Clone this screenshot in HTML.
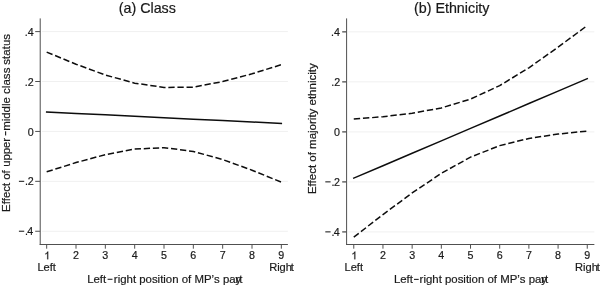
<!DOCTYPE html>
<html><head><meta charset="utf-8"><title>chart</title>
<style>
html,body{margin:0;padding:0;background:#ffffff;}
body{width:600px;height:287px;overflow:hidden;position:relative;font-family:"Liberation Sans",sans-serif;}
</style></head><body>
<svg width="600" height="287" viewBox="0 0 600 287" style="position:absolute;left:0;top:0;display:block;will-change:transform" font-family="Liberation Sans, sans-serif" fill="#1a1a1a" stroke="#1a1a1a" stroke-width="0.2">
<rect width="600" height="287" fill="#ffffff" stroke="none"/>
<line x1="42.01" x2="287.9" y1="31.60" y2="31.60" stroke="#f0f0f0" stroke-width="1"/>
<line x1="42.01" x2="287.9" y1="81.51" y2="81.51" stroke="#f0f0f0" stroke-width="1"/>
<line x1="42.01" x2="287.9" y1="131.43" y2="131.43" stroke="#f0f0f0" stroke-width="1"/>
<line x1="42.01" x2="287.9" y1="181.34" y2="181.34" stroke="#f0f0f0" stroke-width="1"/>
<line x1="42.01" x2="287.9" y1="231.25" y2="231.25" stroke="#f0f0f0" stroke-width="1"/>
<line x1="40.21" x2="40.21" y1="18.4" y2="245.0" stroke="#505050" stroke-width="1.0"/>
<line x1="39.71" x2="287.9" y1="244.5" y2="244.5" stroke="#505050" stroke-width="1"/>
<line x1="35.21" x2="40.21" y1="31.60" y2="31.60" stroke="#505050" stroke-width="1.0"/>
<text x="33.61" y="35.75" font-size="10.7" text-anchor="end">.4</text>
<line x1="35.21" x2="40.21" y1="81.51" y2="81.51" stroke="#505050" stroke-width="1.0"/>
<text x="33.76" y="85.66" font-size="10.7" text-anchor="end">.2</text>
<line x1="35.21" x2="40.21" y1="131.43" y2="131.43" stroke="#505050" stroke-width="1.0"/>
<text x="33.61" y="135.58" font-size="10.7" text-anchor="end">0</text>
<line x1="35.21" x2="40.21" y1="181.34" y2="181.34" stroke="#505050" stroke-width="1.0"/>
<text x="33.61" y="185.49" font-size="10.7" text-anchor="end">2</text>
<text x="25.01" y="185.49" font-size="10.7">.</text>
<rect x="18.91" y="180.79" width="5.3" height="1.05" stroke="none"/>
<line x1="35.21" x2="40.21" y1="231.25" y2="231.25" stroke="#505050" stroke-width="1.0"/>
<text x="33.21" y="235.40" font-size="10.7" text-anchor="end">4</text>
<text x="25.01" y="235.40" font-size="10.7">.</text>
<rect x="18.91" y="230.70" width="5.3" height="1.05" stroke="none"/>
<line x1="46.68" x2="46.68" y1="244.5" y2="248.7" stroke="#505050" stroke-width="1"/>
<path d="M48.20,259.30 L47.26,259.30 L47.26,253.31 Q46.92,253.63 46.36,253.96 Q45.81,254.28 45.38,254.44 L45.38,253.53 Q46.16,253.16 46.75,252.63 Q47.35,252.11 47.59,251.61 L48.20,251.61 Z"/>
<line x1="76.01" x2="76.01" y1="244.5" y2="248.7" stroke="#505050" stroke-width="1"/>
<text x="76.01" y="259.3" font-size="10.7" text-anchor="middle">2</text>
<line x1="105.34" x2="105.34" y1="244.5" y2="248.7" stroke="#505050" stroke-width="1"/>
<text x="105.34" y="259.3" font-size="10.7" text-anchor="middle">3</text>
<line x1="134.68" x2="134.68" y1="244.5" y2="248.7" stroke="#505050" stroke-width="1"/>
<text x="134.68" y="259.3" font-size="10.7" text-anchor="middle">4</text>
<line x1="164.01" x2="164.01" y1="244.5" y2="248.7" stroke="#505050" stroke-width="1"/>
<text x="164.01" y="259.3" font-size="10.7" text-anchor="middle">5</text>
<line x1="193.34" x2="193.34" y1="244.5" y2="248.7" stroke="#505050" stroke-width="1"/>
<text x="193.34" y="259.3" font-size="10.7" text-anchor="middle">6</text>
<line x1="222.67" x2="222.67" y1="244.5" y2="248.7" stroke="#505050" stroke-width="1"/>
<text x="222.67" y="259.3" font-size="10.7" text-anchor="middle">7</text>
<line x1="252.01" x2="252.01" y1="244.5" y2="248.7" stroke="#505050" stroke-width="1"/>
<text x="252.01" y="259.3" font-size="10.7" text-anchor="middle">8</text>
<line x1="281.34" x2="281.34" y1="244.5" y2="248.7" stroke="#505050" stroke-width="1"/>
<text x="281.34" y="259.3" font-size="10.7" text-anchor="middle">9</text>
<text x="46.68" y="270.7" font-size="11.1" text-anchor="middle">Left</text>
<text x="269.14" y="270.7" font-size="11.1">Righ</text>
<text x="290.84" y="270.7" font-size="11.1">t</text>
<text x="147.30" y="12.7" font-size="14.3" text-anchor="middle">(a) Class</text>
<text x="87.14" y="283.1" font-size="11.42" style="font-kerning:none">Left</text>
<rect x="107.60" y="278.75" width="4.90" height="1.05" stroke="none"/>
<text x="113.86" y="283.1" font-size="11.42" style="font-kerning:none">right position of MP’s par</text>
<text x="235.43" y="283.1" font-size="11.42">y</text>
<text x="239.23" y="283.1" font-size="11.42">t</text>
<g transform="translate(9.80,212.0) rotate(-90)" font-size="11.47"><text x="0.00" y="0" textLength="29.32" lengthAdjust="spacing">Effect</text><text x="32.31" y="0" textLength="9.37" lengthAdjust="spacing">of</text><text x="45.26" y="0" textLength="28.94" lengthAdjust="spacing">upper</text><text x="81.30" y="0" textLength="33.49" lengthAdjust="spacing">middle</text><text x="117.97" y="0" textLength="26.43" lengthAdjust="spacing">class</text><text x="147.39" y="0" textLength="30.70" lengthAdjust="spacing">status</text><rect x="76.55" y="-4.75" width="4.15" height="1.1" stroke="none"/></g>
<line x1="348.40000000000003" x2="594.36" y1="31.85" y2="31.85" stroke="#f0f0f0" stroke-width="1"/>
<line x1="348.40000000000003" x2="594.36" y1="81.86" y2="81.86" stroke="#f0f0f0" stroke-width="1"/>
<line x1="348.40000000000003" x2="594.36" y1="131.88" y2="131.88" stroke="#f0f0f0" stroke-width="1"/>
<line x1="348.40000000000003" x2="594.36" y1="181.89" y2="181.89" stroke="#f0f0f0" stroke-width="1"/>
<line x1="348.40000000000003" x2="594.36" y1="231.90" y2="231.90" stroke="#f0f0f0" stroke-width="1"/>
<line x1="346.6" x2="346.6" y1="18.4" y2="245.0" stroke="#505050" stroke-width="1.0"/>
<line x1="346.1" x2="594.36" y1="244.5" y2="244.5" stroke="#505050" stroke-width="1"/>
<line x1="342.20000000000005" x2="346.6" y1="31.85" y2="31.85" stroke="#505050" stroke-width="1.3"/>
<text x="340.00" y="36.00" font-size="10.7" text-anchor="end">.4</text>
<line x1="342.20000000000005" x2="346.6" y1="81.86" y2="81.86" stroke="#505050" stroke-width="1.3"/>
<text x="340.15" y="86.01" font-size="10.7" text-anchor="end">.2</text>
<line x1="342.20000000000005" x2="346.6" y1="131.88" y2="131.88" stroke="#505050" stroke-width="1.3"/>
<text x="340.00" y="136.03" font-size="10.7" text-anchor="end">0</text>
<line x1="342.20000000000005" x2="346.6" y1="181.89" y2="181.89" stroke="#505050" stroke-width="1.3"/>
<text x="340.00" y="186.04" font-size="10.7" text-anchor="end">2</text>
<text x="331.40" y="186.04" font-size="10.7">.</text>
<rect x="325.30" y="181.34" width="5.3" height="1.05" stroke="none"/>
<line x1="342.20000000000005" x2="346.6" y1="231.90" y2="231.90" stroke="#505050" stroke-width="1.3"/>
<text x="339.60" y="236.05" font-size="10.7" text-anchor="end">4</text>
<text x="331.40" y="236.05" font-size="10.7">.</text>
<rect x="325.30" y="231.35" width="5.3" height="1.05" stroke="none"/>
<line x1="353.78" x2="353.78" y1="244.5" y2="248.7" stroke="#505050" stroke-width="1"/>
<path d="M355.30,259.30 L354.36,259.30 L354.36,253.31 Q354.02,253.63 353.46,253.96 Q352.91,254.28 352.48,254.44 L352.48,253.53 Q353.26,253.16 353.85,252.63 Q354.45,252.11 354.69,251.61 L355.30,251.61 Z"/>
<line x1="382.96" x2="382.96" y1="244.5" y2="248.7" stroke="#505050" stroke-width="1"/>
<text x="382.96" y="259.3" font-size="10.7" text-anchor="middle">2</text>
<line x1="412.15" x2="412.15" y1="244.5" y2="248.7" stroke="#505050" stroke-width="1"/>
<text x="412.15" y="259.3" font-size="10.7" text-anchor="middle">3</text>
<line x1="441.33" x2="441.33" y1="244.5" y2="248.7" stroke="#505050" stroke-width="1"/>
<text x="441.33" y="259.3" font-size="10.7" text-anchor="middle">4</text>
<line x1="470.52" x2="470.52" y1="244.5" y2="248.7" stroke="#505050" stroke-width="1"/>
<text x="470.52" y="259.3" font-size="10.7" text-anchor="middle">5</text>
<line x1="499.70" x2="499.70" y1="244.5" y2="248.7" stroke="#505050" stroke-width="1"/>
<text x="499.70" y="259.3" font-size="10.7" text-anchor="middle">6</text>
<line x1="528.89" x2="528.89" y1="244.5" y2="248.7" stroke="#505050" stroke-width="1"/>
<text x="528.89" y="259.3" font-size="10.7" text-anchor="middle">7</text>
<line x1="558.08" x2="558.08" y1="244.5" y2="248.7" stroke="#505050" stroke-width="1"/>
<text x="558.08" y="259.3" font-size="10.7" text-anchor="middle">8</text>
<line x1="587.26" x2="587.26" y1="244.5" y2="248.7" stroke="#505050" stroke-width="1"/>
<text x="587.26" y="259.3" font-size="10.7" text-anchor="middle">9</text>
<text x="353.78" y="270.7" font-size="11.1" text-anchor="middle">Left</text>
<text x="575.06" y="270.7" font-size="11.1">Righ</text>
<text x="596.76" y="270.7" font-size="11.1">t</text>
<text x="451.70" y="12.7" font-size="14.3" text-anchor="middle">(b) Ethnicity</text>
<text x="393.89" y="283.2" font-size="11.42" style="font-kerning:none">Left</text>
<rect x="414.00" y="278.85" width="4.70" height="1.05" stroke="none"/>
<text x="419.61" y="283.2" font-size="11.42" style="font-kerning:none">right position of MP’s par</text>
<text x="541.18" y="283.2" font-size="11.42">y</text>
<text x="544.98" y="283.2" font-size="11.42">t</text>
<text transform="translate(316.20,194.1) rotate(-90)" font-size="11.5" text-anchor="start">Effect of majority ethnicity</text>
<polyline points="46.68,111.96 76.01,113.39 105.34,114.83 134.68,116.26 164.01,117.70 193.34,119.13 222.67,120.57 252.01,122.00 281.34,123.44" fill="none" stroke="#0d0d0d" stroke-width="1.5" stroke-linecap="square"/>
<polyline points="46.68,52.10 76.01,64.19 105.34,75.01 134.68,83.14 164.01,87.45 193.34,87.13 222.67,81.59 252.01,73.81 281.34,64.68" fill="none" stroke="#0d0d0d" stroke-width="1.5" stroke-dasharray="6.3,2.8"/>
<polyline points="46.68,171.82 76.01,162.59 105.34,154.64 134.68,149.09 164.01,147.65 193.34,151.46 222.67,159.55 252.01,170.19 281.34,182.20" fill="none" stroke="#0d0d0d" stroke-width="1.5" stroke-dasharray="6.3,2.8"/>
<polyline points="353.78,178.14 382.96,165.71 412.15,153.27 441.33,140.84 470.52,128.41 499.70,115.98 528.89,103.55 558.08,91.12 587.26,78.69" fill="none" stroke="#0d0d0d" stroke-width="1.5" stroke-linecap="square"/>
<polyline points="353.78,119.12 382.96,116.74 412.15,113.30 441.33,107.92 470.52,99.11 499.70,85.60 528.89,67.78 558.08,47.20 587.26,25.50" fill="none" stroke="#0d0d0d" stroke-width="1.5" stroke-dasharray="6.37,2.83"/>
<polyline points="353.78,237.16 382.96,214.53 412.15,192.96 441.33,173.34 470.52,157.13 499.70,145.64 528.89,138.46 558.08,134.02 587.26,131.10" fill="none" stroke="#0d0d0d" stroke-width="1.5" stroke-dasharray="6.3,2.8"/>
</svg>
</body></html>
